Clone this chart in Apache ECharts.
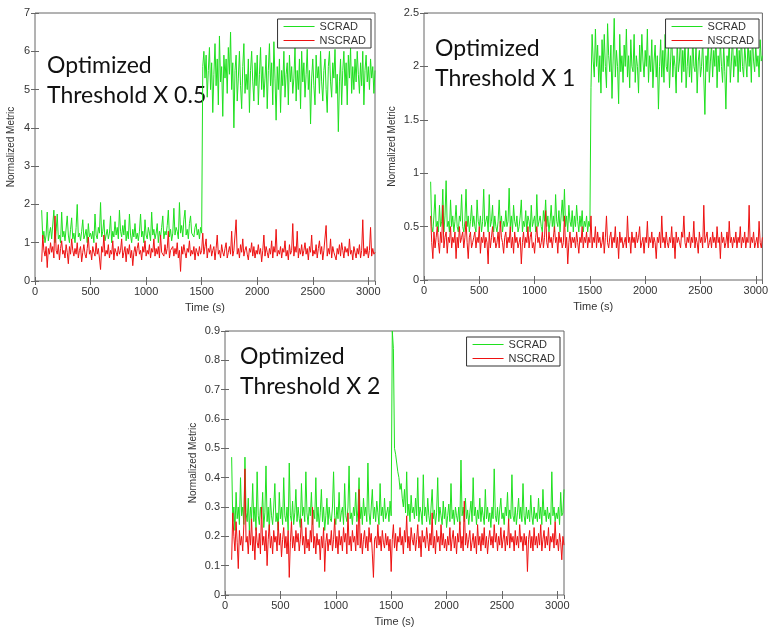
<!DOCTYPE html>
<html><head><meta charset="utf-8">
<script src="https://cdn.jsdelivr.net/npm/echarts@6/dist/echarts.min.js"></script>
<style>html,body{margin:0;padding:0;background:#fff}#c{width:771px;height:628px}</style>
</head><body><div id="c"></div>
<script>
// sampling: first sample time and step (s)
const startTime = 60, stepTime = 10;
const seriesNames = ['SCRAD', 'NSCRAD'];
const titles = [['Optimized', 'Threshold X 0.5'], ['Optimized', 'Threshold X 1'], ['Optimized', 'Threshold X 2']];
const xTicks = [0, 500, 1000, 1500, 2000, 2500, 3000];
const yMax = [7, 2.5, 0.9];
const yStep = [1, 0.5, 0.1];

// Panel 1 (Threshold x 0.5)
const scrad1 = [
1.85,1.1,1.3,1.0,1.2,1.8,1.05,1.25,1.4,1.1,
1.15,1.85,1.0,1.3,1.75,1.1,1.2,1.0,1.8,1.15,
1.3,1.05,1.1,1.7,1.2,1.0,1.35,1.65,1.1,1.25,
1.0,1.4,2.0,1.15,1.25,1.05,1.3,1.6,1.1,1.2,
1.35,1.0,1.5,1.15,1.25,1.1,1.3,1.0,1.75,1.2,
1.1,1.4,1.25,2.05,1.15,1.3,1.6,1.05,1.2,1.35,
1.1,1.25,1.7,1.0,1.3,1.15,1.55,1.2,1.4,1.1,
1.85,1.3,1.15,1.45,1.2,1.6,1.05,1.3,1.1,1.75,
1.2,1.0,1.35,1.15,1.5,1.1,1.25,1.05,1.3,1.75,
1.15,1.3,1.0,1.6,1.2,1.1,1.4,1.25,1.05,1.8,
1.2,1.35,1.1,1.25,1.5,1.0,1.3,1.15,1.4,1.7,
1.1,1.3,1.2,1.45,1.85,1.15,1.35,1.05,1.25,1.9,
1.2,1.4,1.3,1.1,2.05,1.25,1.45,1.15,1.6,1.85,
1.2,1.35,1.1,1.5,1.7,1.25,1.3,1.15,1.4,1.5,
1.2,1.35,1.1,1.4,1.25,
5.6,6.0,5.3,5.9,4.8,5.5,6.1,5.0,5.7,4.4,
5.4,6.2,5.1,5.8,4.6,6.4,5.2,5.6,4.3,5.9,
5.3,5.8,4.9,6.1,5.4,6.5,5.0,5.7,4.0,5.5,
5.9,4.7,5.3,6.0,5.1,4.5,5.6,6.2,4.9,5.4,
5.0,5.8,4.4,5.5,6.0,5.2,4.7,5.7,5.1,5.9,
4.6,5.4,6.1,5.0,5.6,4.8,5.3,5.9,4.5,5.5,
6.2,5.1,5.7,4.6,6.25,5.3,4.2,5.6,5.0,5.8,
4.4,5.5,5.1,6.0,4.8,5.4,5.7,4.6,5.9,5.2,
5.6,4.9,5.3,6.1,4.7,5.5,5.0,5.8,4.5,6.0,
5.2,5.7,4.8,5.4,6.05,5.0,5.5,4.1,5.3,5.8,
5.1,4.6,5.9,5.3,5.6,4.9,6.0,5.2,4.7,5.5,
5.8,5.0,4.4,5.6,6.0,5.2,4.8,5.7,5.3,6.05,
4.9,5.4,3.9,5.2,5.8,4.6,5.5,6.0,5.1,5.7,
4.6,5.9,5.3,6.1,4.9,5.6,5.0,5.8,5.2,6.0,
5.4,4.9,5.7,5.1,6.0,4.6,5.5,5.9,5.2,5.6,
5.0,5.8,5.3,5.6,4.9,5.5];
const nscrad1 = [
0.5,1.2,0.8,0.65,0.9,0.35,0.85,0.7,1.0,0.75,
0.9,0.6,1.7,0.8,0.7,0.95,0.55,0.85,1.05,0.7,
0.8,0.6,0.95,0.75,0.45,0.9,0.7,1.1,0.8,0.65,
0.85,0.7,1.0,0.6,0.8,0.9,0.5,0.75,0.95,0.7,
0.6,0.85,1.15,0.7,0.8,0.55,0.9,0.75,0.65,1.0,
0.7,0.85,0.6,0.3,0.9,0.75,1.2,0.65,0.8,0.7,
0.95,0.6,0.8,0.7,1.05,0.55,0.85,0.75,0.65,0.9,
0.7,0.8,1.1,0.6,0.75,0.9,0.5,0.85,0.7,0.95,
0.6,0.8,0.4,0.75,0.9,0.65,0.85,1.0,0.7,0.8,
0.55,0.9,0.75,1.05,0.65,0.8,0.7,0.95,0.6,0.85,
0.75,1.1,0.65,0.85,0.7,0.9,0.6,1.2,0.75,0.8,
0.65,0.95,0.7,0.85,1.3,0.6,0.8,0.75,0.9,0.65,
0.85,0.7,1.0,0.6,0.8,0.25,0.9,0.7,0.95,0.75,
0.6,0.85,0.75,1.05,0.65,0.8,0.7,0.9,0.55,0.85,
0.75,0.65,0.9,0.7,0.8,
1.25,0.7,0.9,1.1,0.6,0.85,0.75,0.95,0.65,0.8,
0.9,0.55,0.85,1.2,0.7,0.8,0.6,0.95,0.75,0.65,
0.85,1.0,0.6,0.75,0.9,0.7,1.3,0.65,0.8,0.75,
1.6,0.7,0.85,0.6,0.95,0.75,1.1,0.65,0.8,0.9,
0.7,0.55,0.85,0.75,1.0,0.65,0.9,0.6,0.8,0.7,
0.95,0.7,0.85,0.5,0.8,1.2,0.65,0.9,0.75,0.6,
0.85,0.7,1.05,0.6,0.9,0.75,1.35,0.65,0.8,0.7,
0.9,0.6,0.85,0.75,1.05,0.65,0.8,0.55,0.95,0.7,
0.8,1.5,0.65,0.9,0.75,1.3,0.6,0.85,0.7,0.95,
0.65,0.8,1.0,0.7,0.85,0.55,0.9,0.75,1.2,0.65,
0.8,0.7,0.95,0.6,0.85,1.05,0.7,0.9,0.55,0.8,
0.75,1.45,0.65,0.85,0.7,1.1,0.6,0.9,0.75,0.8,
0.55,0.85,0.7,0.95,0.65,1.0,0.8,0.6,0.9,0.75,
0.85,0.65,1.1,0.7,0.8,0.55,0.9,0.75,0.6,0.85,
0.7,0.95,0.6,0.8,1.6,0.65,0.85,0.7,0.9,0.6,
0.8,1.4,0.65,0.85,0.7,0.75];

// Panel 2 (Threshold x 1)
const scrad2 = [
0.92,0.5,0.45,0.6,0.8,0.5,0.55,0.45,0.7,0.5,
0.55,0.85,0.45,0.6,0.93,0.5,0.55,0.45,0.75,0.5,
0.6,0.45,0.55,0.7,0.5,0.45,0.6,0.55,0.8,0.5,
0.45,0.55,0.85,0.5,0.6,0.45,0.55,0.7,0.5,0.6,
0.5,0.45,0.75,0.55,0.5,0.6,0.45,0.55,0.85,0.5,
0.55,0.6,0.45,0.8,0.5,0.55,0.7,0.45,0.6,0.5,
0.45,0.55,0.75,0.5,0.6,0.45,0.55,0.5,0.65,0.5,
0.55,0.86,0.5,0.6,0.45,0.7,0.55,0.5,0.6,0.45,
0.5,0.6,0.75,0.45,0.55,0.5,0.65,0.45,0.6,0.55,
0.45,0.7,0.5,0.55,0.6,0.45,0.8,0.5,0.55,0.6,
0.5,0.45,0.65,0.55,0.75,0.5,0.6,0.45,0.55,0.7,
0.5,0.6,0.45,0.8,0.55,0.5,0.65,0.45,0.6,0.75,
0.55,0.85,0.5,0.6,0.45,0.7,0.55,0.5,0.65,0.45,
0.6,0.5,0.7,0.55,0.45,0.6,0.5,0.65,0.45,0.55,
0.5,0.6,0.45,0.55,0.5,
1.8,2.3,2.05,1.9,2.35,2.0,2.2,1.85,2.1,1.75,
2.25,1.95,2.3,2.0,1.8,2.4,2.1,1.95,2.2,1.7,
2.05,2.45,1.9,2.15,2.0,1.65,2.3,1.95,2.1,1.85,
2.2,2.0,2.35,1.9,2.1,1.8,2.25,2.0,1.95,2.3,
1.85,2.1,2.0,1.75,2.2,1.95,2.3,2.05,1.9,2.15,
2.0,2.35,1.85,2.1,1.95,2.25,1.8,2.05,2.2,1.9,
2.1,1.6,2.0,2.25,1.9,2.15,1.85,2.3,2.0,1.95,
2.2,1.8,2.05,2.35,1.9,2.1,2.0,1.75,2.25,1.95,
2.05,2.3,1.85,2.15,1.95,2.25,1.8,2.0,2.2,1.9,
2.1,1.85,2.3,2.0,1.95,2.2,1.75,2.05,2.15,1.9,
2.0,2.25,1.9,1.55,2.1,1.95,2.3,1.85,2.05,2.2,
1.9,2.15,2.0,2.3,1.8,2.1,1.95,2.25,2.0,1.85,
2.2,1.95,1.6,2.1,2.0,2.25,1.85,2.05,2.3,1.9,
2.1,2.0,2.25,1.85,2.15,1.95,2.3,2.0,1.9,2.2,
2.05,1.9,2.25,2.0,2.15,1.85,2.3,2.05,1.95,2.2,
2.0,2.1,1.9,2.25,2.05,2.1];
const nscrad2 = [
0.6,0.35,0.2,0.45,0.3,0.4,0.5,0.35,0.25,0.45,
0.35,0.7,0.3,0.4,0.45,0.25,0.4,0.35,0.5,0.3,
0.4,0.35,0.45,0.2,0.4,0.3,0.5,0.35,0.4,0.45,
0.3,0.4,0.55,0.35,0.2,0.4,0.45,0.3,0.35,0.4,
0.45,0.3,0.4,0.35,0.5,0.25,0.4,0.35,0.45,0.3,
0.4,0.35,0.15,0.45,0.3,0.4,0.5,0.35,0.4,0.3,
0.35,0.45,0.3,0.55,0.4,0.35,0.25,0.4,0.45,0.3,
0.4,0.35,0.5,0.3,0.4,0.25,0.45,0.35,0.4,0.3,
0.35,0.4,0.15,0.35,0.45,0.3,0.4,0.35,0.5,0.3,
0.4,0.45,0.3,0.35,0.25,0.4,0.5,0.35,0.4,0.3,
0.35,0.45,0.3,0.4,0.65,0.35,0.3,0.45,0.35,0.4,
0.3,0.4,0.5,0.35,0.4,0.25,0.45,0.35,0.4,0.3,
0.35,0.6,0.3,0.4,0.15,0.35,0.45,0.3,0.4,0.35,
0.4,0.3,0.45,0.35,0.25,0.4,0.35,0.5,0.3,0.4,
0.35,0.45,0.3,0.4,0.35,
0.6,0.3,0.4,0.35,0.5,0.3,0.45,0.35,0.4,0.3,
0.35,0.45,0.25,0.4,0.6,0.35,0.3,0.4,0.45,0.3,
0.4,0.35,0.5,0.3,0.4,0.2,0.45,0.35,0.4,0.3,
0.35,0.4,0.3,0.6,0.35,0.4,0.25,0.45,0.35,0.4,
0.3,0.45,0.35,0.4,0.5,0.3,0.35,0.4,0.25,0.4,
0.35,0.55,0.3,0.4,0.35,0.45,0.3,0.4,0.35,0.2,
0.4,0.35,0.45,0.3,0.6,0.35,0.4,0.3,0.45,0.35,
0.3,0.4,0.35,0.5,0.3,0.4,0.2,0.45,0.35,0.4,
0.35,0.3,0.45,0.4,0.6,0.35,0.3,0.4,0.35,0.45,
0.3,0.4,0.35,0.55,0.3,0.4,0.35,0.25,0.45,0.35,
0.4,0.3,0.7,0.35,0.4,0.45,0.3,0.35,0.4,0.3,
0.45,0.35,0.4,0.3,0.5,0.35,0.4,0.2,0.45,0.35,
0.4,0.3,0.35,0.45,0.3,0.55,0.35,0.4,0.3,0.4,
0.35,0.45,0.3,0.4,0.35,0.5,0.3,0.4,0.35,0.45,
0.3,0.4,0.35,0.7,0.3,0.4,0.35,0.45,0.3,0.35,
0.4,0.3,0.55,0.35,0.3,0.4];

// Panel 3 (Threshold x 2)
const scrad3 = [
0.47,0.25,0.3,0.22,0.35,0.26,0.3,0.24,0.4,0.27,
0.3,0.24,0.47,0.28,0.25,0.33,0.22,0.3,0.26,0.38,
0.25,0.3,0.22,0.42,0.27,0.24,0.3,0.26,0.35,0.23,
0.28,0.44,0.25,0.3,0.22,0.33,0.27,0.24,0.3,0.38,
0.25,0.28,0.22,0.35,0.26,0.3,0.24,0.4,0.27,0.25,
0.3,0.22,0.45,0.27,0.25,0.32,0.24,0.28,0.36,0.25,
0.3,0.26,0.23,0.38,0.27,0.3,0.25,0.42,0.28,0.24,
0.3,0.27,0.35,0.24,0.29,0.26,0.4,0.25,0.3,0.23,
0.28,0.36,0.25,0.3,0.22,0.27,0.33,0.24,0.3,0.26,
0.25,0.3,0.42,0.27,0.24,0.3,0.26,0.35,0.25,0.28,
0.3,0.24,0.38,0.27,0.25,0.3,0.44,0.26,0.28,0.24,
0.3,0.27,0.35,0.25,0.29,0.4,0.26,0.3,0.24,0.33,
0.27,0.3,0.25,0.45,0.28,0.24,0.3,0.36,0.26,0.3,
0.25,0.32,0.28,0.24,0.38,0.27,0.3,0.25,0.33,0.26,
0.28,0.3,0.25,0.32,0.27,
0.9,0.84,0.5,0.48,0.45,0.42,0.4,0.36,0.38,0.33,
0.3,0.36,0.28,0.42,0.27,0.31,0.25,0.34,0.28,0.3,
0.26,0.33,0.27,0.4,0.25,0.3,0.28,0.24,0.41,0.27,
0.3,0.25,0.33,0.27,0.24,0.3,0.36,0.26,0.29,0.24,
0.28,0.4,0.25,0.3,0.27,0.24,0.32,0.26,0.3,0.23,
0.27,0.31,0.25,0.38,0.26,0.29,0.24,0.3,0.27,0.25,
0.3,0.24,0.46,0.27,0.3,0.25,0.33,0.26,0.29,0.24,
0.28,0.32,0.25,0.4,0.27,0.3,0.24,0.29,0.26,0.33,
0.25,0.3,0.27,0.24,0.36,0.26,0.3,0.25,0.28,0.23,
0.3,0.26,0.43,0.27,0.25,0.3,0.24,0.29,0.33,0.26,
0.28,0.24,0.3,0.27,0.35,0.25,0.29,0.26,0.41,0.27,
0.25,0.3,0.24,0.28,0.33,0.26,0.3,0.25,0.38,0.27,
0.24,0.3,0.26,0.29,0.25,0.34,0.27,0.24,0.3,0.26,
0.28,0.25,0.33,0.26,0.3,0.24,0.36,0.27,0.29,0.25,
0.3,0.26,0.28,0.24,0.42,0.27,0.3,0.25,0.28,0.26,
0.3,0.24,0.35,0.27,0.28,0.36];
const nscrad3 = [
0.12,0.28,0.2,0.15,0.25,0.18,0.09,0.22,0.17,0.2,
0.15,0.24,0.43,0.18,0.2,0.14,0.22,0.17,0.26,0.15,
0.2,0.12,0.23,0.18,0.16,0.21,0.14,0.3,0.17,0.2,
0.15,0.22,0.1,0.19,0.24,0.16,0.2,0.14,0.22,0.18,
0.2,0.15,0.25,0.17,0.21,0.13,0.19,0.23,0.16,0.2,
0.14,0.22,0.06,0.18,0.25,0.16,0.2,0.15,0.22,0.18,
0.21,0.15,0.19,0.26,0.17,0.2,0.14,0.23,0.16,0.19,
0.15,0.22,0.18,0.3,0.16,0.2,0.14,0.21,0.17,0.19,
0.12,0.2,0.16,0.23,0.08,0.18,0.21,0.15,0.19,0.17,
0.22,0.15,0.19,0.26,0.16,0.2,0.14,0.22,0.17,0.2,
0.15,0.23,0.18,0.21,0.14,0.28,0.17,0.2,0.15,0.22,
0.18,0.2,0.15,0.24,0.17,0.36,0.16,0.21,0.14,0.19,
0.22,0.16,0.2,0.15,0.23,0.18,0.21,0.14,0.06,0.19,
0.2,0.16,0.24,0.17,0.2,0.15,0.22,0.18,0.16,0.21,
0.17,0.2,0.15,0.19,0.08,
0.19,0.24,0.16,0.21,0.15,0.2,0.18,0.23,0.17,0.2,
0.14,0.22,0.18,0.27,0.16,0.2,0.15,0.23,0.19,0.17,
0.21,0.15,0.19,0.24,0.16,0.2,0.13,0.22,0.18,0.2,
0.16,0.23,0.19,0.15,0.21,0.17,0.28,0.16,0.2,0.14,
0.22,0.18,0.2,0.15,0.24,0.17,0.21,0.16,0.19,0.15,
0.2,0.17,0.23,0.15,0.19,0.22,0.16,0.2,0.14,0.21,
0.18,0.25,0.16,0.2,0.15,0.32,0.17,0.21,0.16,0.19,
0.22,0.15,0.18,0.21,0.16,0.2,0.14,0.24,0.17,0.2,
0.15,0.21,0.17,0.23,0.16,0.2,0.14,0.19,0.22,0.17,
0.2,0.16,0.24,0.18,0.21,0.15,0.2,0.17,0.23,0.16,
0.19,0.22,0.15,0.2,0.17,0.26,0.16,0.21,0.18,0.2,
0.15,0.22,0.17,0.2,0.16,0.24,0.18,0.2,0.15,0.21,
0.17,0.2,0.08,0.19,0.22,0.16,0.2,0.15,0.23,0.17,
0.2,0.16,0.21,0.17,0.24,0.15,0.19,0.22,0.16,0.2,
0.17,0.23,0.15,0.2,0.18,0.21,0.16,0.25,0.17,0.19,
0.15,0.21,0.18,0.12,0.2,0.17];

const panels = [[scrad1, nscrad1], [scrad2, nscrad2], [scrad3, nscrad3]];
const grids = [
  {left: 35, top: 13, width: 340, height: 268},
  {left: 424, top: 13, width: 339, height: 267},
  {left: 225, top: 331, width: 339, height: 267}
];
const titlePos = [[47, 51], [435, 34], [240, 342]];
const xMax = 3060;
const green = '#1fe01f', red = '#ee1111';
const font = '"Liberation Sans", Arial, sans-serif';

function toPairs(arr) { return arr.map((v, i) => [startTime + i * stepTime, v]); }

const xAxis = [], yAxis = [], series = [], legend = [], graphic = [];
grids.forEach((g, k) => {
  const common = {gridIndex: k, type: 'value', axisLine: {show: false}, splitLine: {show: false},
    axisTick: {inside: true, length: 4, lineStyle: {color: '#666'}}};
  xAxis.push(Object.assign({}, common, {min: 0, max: xMax, interval: 500, position: 'bottom',
    name: 'Time (s)', nameLocation: 'middle', nameGap: 21,
    nameTextStyle: {fontFamily: font, fontSize: 11, color: '#333'},
    axisLabel: {fontFamily: font, fontSize: 11, color: '#333', margin: 5, showMaxLabel: false,
      formatter: v => xTicks.indexOf(v) >= 0 ? String(v) : ''}}));
  xAxis.push(Object.assign({}, common, {min: 0, max: xMax, interval: 500, position: 'top',
    axisLabel: {show: false}}));
  yAxis.push(Object.assign({}, common, {min: 0, max: yMax[k], interval: yStep[k], position: 'left',
    name: 'Normalized Metric', nameLocation: 'middle', nameGap: k === 0 ? 19 : 27,
    nameTextStyle: {fontFamily: font, fontSize: 10, color: '#333'},
    axisLabel: {fontFamily: font, fontSize: 11, color: '#333', margin: 5,
      formatter: v => String(Math.round(v * 10) / 10)}}));
  yAxis.push(Object.assign({}, common, {min: 0, max: yMax[k], interval: yStep[k], position: 'right',
    axisLabel: {show: false}}));
  const [s, n] = panels[k];
  series.push({name: seriesNames[0], type: 'line', xAxisIndex: 2 * k, yAxisIndex: 2 * k,
    data: toPairs(s), showSymbol: false, symbol: 'none', lineStyle: {width: 1, color: green}, itemStyle: {color: green}, z: 2});
  series.push({name: seriesNames[1], type: 'line', xAxisIndex: 2 * k, yAxisIndex: 2 * k,
    data: toPairs(n), showSymbol: false, symbol: 'none', lineStyle: {width: 1, color: red}, itemStyle: {color: red}, z: 3});
  legend.push({orient: 'vertical', right: 771 - (g.left + g.width) + 4, top: g.top + 6,
    data: seriesNames.map(nm => ({name: nm, icon: 'rect'})),
    itemWidth: 31, itemHeight: 1, itemGap: 3, padding: [2, 5, 2, 6],
    borderColor: '#333', borderWidth: 1, backgroundColor: '#fff', selectedMode: false,
    textStyle: {fontFamily: font, fontSize: 11, color: '#333'}});
  graphic.push({type: 'text', left: titlePos[k][0], top: titlePos[k][1],
    style: {text: titles[k].join('\n'), font: '23px Lato, "Open Sans", sans-serif', lineHeight: 30, fill: '#111'}});
});

const chart = echarts.init(document.getElementById('c'), null, {renderer: 'canvas'});
chart.setOption({animation: false, backgroundColor: '#fff',
  grid: grids.map(g => Object.assign({show: true, borderColor: '#666', borderWidth: 1, backgroundColor: 'transparent'}, g)),
  xAxis, yAxis, series, legend, graphic});
</script></body></html>
